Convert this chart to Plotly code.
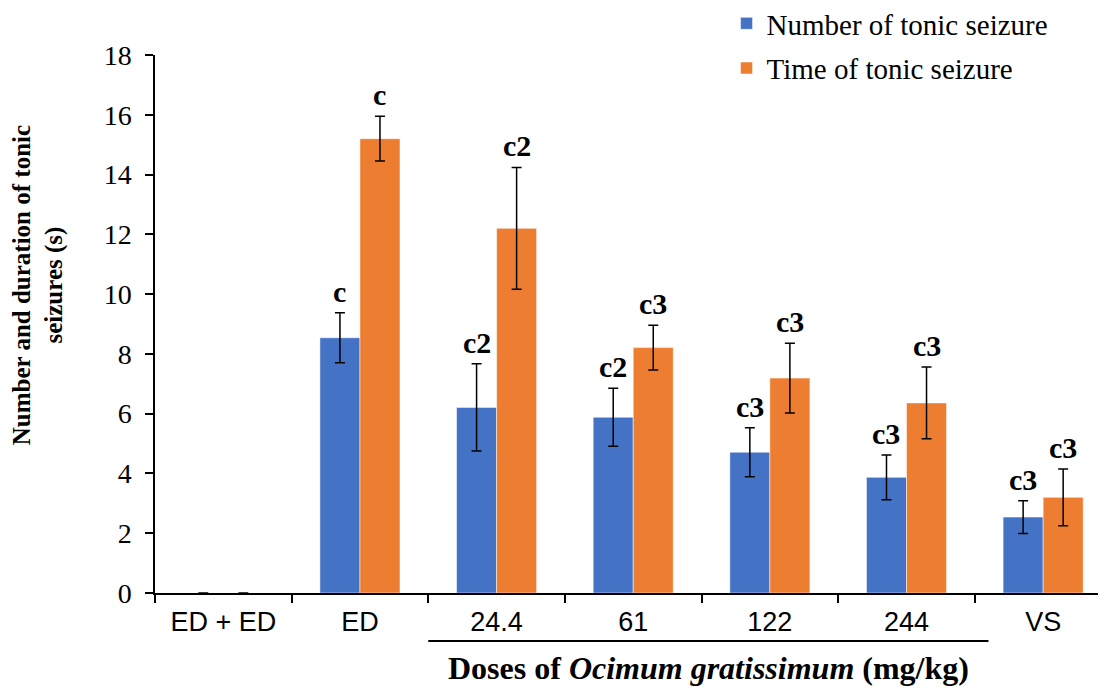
import plotly.graph_objects as go

categories = ["ED + ED", "ED", "24.4", "61", "122", "244", "VS"]
number_vals = [0, 8.54, 6.21, 5.88, 4.71, 3.87, 2.54]
number_err = [0, 0.84, 1.46, 0.97, 0.82, 0.75, 0.55]
time_vals = [0, 15.2, 12.2, 8.21, 7.19, 6.36, 3.2]
time_err = [0, 0.75, 2.04, 0.75, 1.17, 1.2, 0.95]
number_labels = ["", "c", "c2", "c2", "c3", "c3", "c3"]
time_labels = ["", "c", "c2", "c3", "c3", "c3", "c3"]
y_ticks = [0, 2, 4, 6, 8, 10, 12, 14, 16, 18]

BLUE = "#4472C4"
ORANGE = "#ED7D31"
SERIF = "Liberation Serif, Times New Roman, serif"
SANS = "Liberation Sans, Arial, sans-serif"

# page body has an 8px margin, so the figure is 8px smaller and margins shifted
W, H = 1098, 680
ML, MR, MT, MB = 147, 0, 47, 95
BARGAP = 0.414
XRANGE = [-0.5, 6.46]

fig = go.Figure()
fig.add_trace(go.Bar(
    x=categories, y=number_vals, name="Number of tonic seizure", legendgroup="a",
    marker=dict(color=BLUE, line=dict(color="rgba(255,255,255,0.5)", width=1)),
    error_y=dict(type="data", array=number_err, visible=True, color="black", thickness=1.5, width=5),
))
fig.add_trace(go.Bar(
    x=categories, y=time_vals, name="Time of tonic seizure", legendgroup="b",
    marker=dict(color=ORANGE, line=dict(color="rgba(255,255,255,0.5)", width=1)),
    error_y=dict(type="data", array=time_err, visible=True, color="black", thickness=1.5, width=5),
))

px_per_cat = (W - ML - MR) / (XRANGE[1] - XRANGE[0])
half_bar = px_per_cat * (1 - BARGAP) / 4

annotations = []
for i, (v, e, lab) in enumerate(zip(number_vals, number_err, number_labels)):
    if lab:
        annotations.append(dict(x=i, y=v + e, xref="x", yref="y", text=f"<b>{lab}</b>",
                                showarrow=False, yanchor="bottom", xshift=-half_bar, yshift=3,
                                font=dict(family=SERIF, size=30, color="black")))
for i, (v, e, lab) in enumerate(zip(time_vals, time_err, time_labels)):
    if lab:
        annotations.append(dict(x=i, y=v + e, xref="x", yref="y", text=f"<b>{lab}</b>",
                                showarrow=False, yanchor="bottom", xshift=half_bar, yshift=3,
                                font=dict(family=SERIF, size=30, color="black")))

# y-axis title
annotations.append(dict(x=-0.123, y=0.572, xref="paper", yref="paper",
                        text="<b>Number and duration of tonic<br>seizures (s)</b>",
                        textangle=-90, showarrow=False, xanchor="center", yanchor="middle",
                        font=dict(family=SERIF, size=25, color="black")))
# x-axis title
annotations.append(dict(x=0.5815, y=-0.139, xref="paper", yref="paper",
                        text="<b>Doses of <i>Ocimum gratissimum</i> (mg/kg)</b>",
                        showarrow=False, xanchor="center", yanchor="middle",
                        font=dict(family=SERIF, size=32, color="black")))

i0 = categories.index("24.4")
i1 = categories.index("244")
shapes = [dict(type="line", xref="x", yref="paper", x0=i0 - 0.5, x1=i1 + 0.6,
               y0=-0.0892, y1=-0.0892, line=dict(color="black", width=2))]

fig.update_layout(
    width=W, height=H,
    margin=dict(l=ML, r=MR, t=MT, b=MB, autoexpand=False),
    paper_bgcolor="white", plot_bgcolor="white",
    barmode="group", bargap=BARGAP, bargroupgap=0,
    showlegend=True,
    legend=dict(x=0.601, y=1.106, xanchor="left", yanchor="top",
                traceorder="grouped", tracegroupgap=4,
                font=dict(family=SERIF, size=29, color="black"),
                bgcolor="rgba(0,0,0,0)", itemclick=False),
    annotations=annotations,
    shapes=shapes,
    xaxis=dict(type="category", range=XRANGE, showline=True, linecolor="black", linewidth=1.5,
               ticks="outside", tickson="boundaries", ticklen=8, tickcolor="black", tickwidth=1.5,
               tickfont=dict(family=SANS, size=27, color="black"), showgrid=False, zeroline=False,
               automargin=False, ticklabelstandoff=4),
    yaxis=dict(range=[0, 18], tickvals=y_ticks, showline=True, linecolor="black", linewidth=1.5,
               ticks="outside", ticklen=8, tickcolor="black", tickwidth=1.5,
               tickfont=dict(family=SERIF, size=28, color="black"), showgrid=False, zeroline=False,
               ticklabelstandoff=8, automargin=False),
)

fig.write_html("out.html")
